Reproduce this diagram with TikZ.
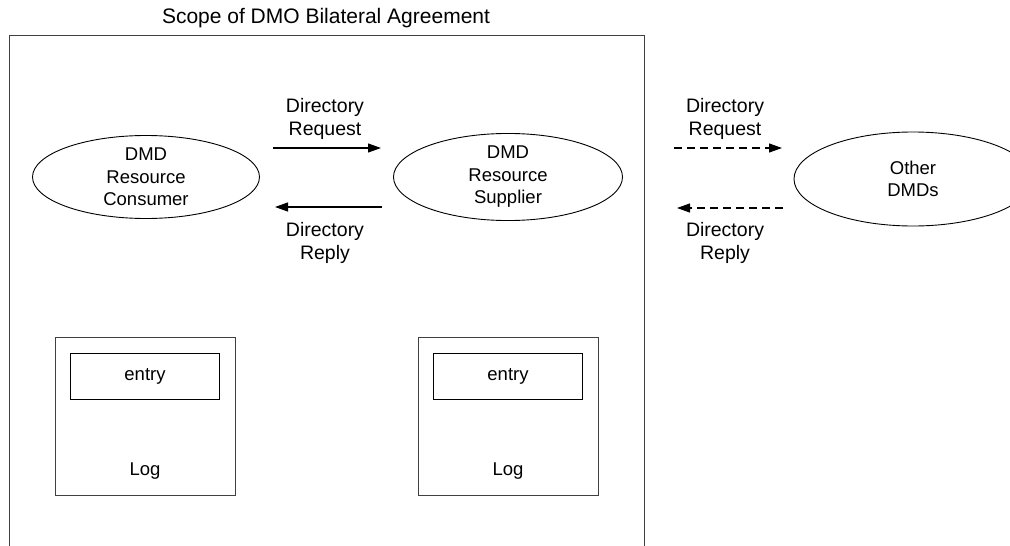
\documentclass[tikz,border=0pt]{standalone}
\usepackage{fontspec}
\setmainfont{Liberation Sans}
\usetikzlibrary{arrows.meta,shapes.geometric}

\def\logy{416}
\def\entryy{376}

\begin{document}
\begin{tikzpicture}[x=1pt, y=-1pt,
    nodes = {font=\fontsize{18.5}{22.5}\selectfont, align=center},
    >={Triangle[length=13pt,width=9pt]},
    dmd/.style={ellipse, draw, line width=0.9pt, inner sep=0pt},
    msglabel/.style={font=\fontsize{19.5}{23.5}\selectfont},
    logbox/.style={draw=black!75, line width=1pt, minimum width=180pt, minimum height=158pt},
    entrybox/.style={draw, line width=1pt, minimum width=149pt, minimum height=46pt},
    msg/.style={->, line width=1.2pt},
    fwdmsg/.style={msg, dash pattern=on 8pt off 5pt}]
    \useasboundingbox (0,0) rectangle (1010,546);

    % Scope of the agreement (open at the bottom)
    \node[font=\fontsize{21}{25}\selectfont] (title) at (326,18) {Scope of DMO Bilateral Agreement};
    \coordinate (scopebl) at (9,546);
    \coordinate (scopetl) at (9,35);
    \coordinate (scopetr) at (644,35);
    \coordinate (scopebr) at (644,546);
    \draw[black!75, line width=1pt] (scopebl) -- (scopetl) -- (scopetr) -- (scopebr);

    % DMDs
    \node[dmd, minimum width=227pt, minimum height=83pt] (consumer) at (146,177)
        {DMD\\Resource\\Consumer};
    \node[dmd, minimum width=229pt, minimum height=82pt] (supplier) at (508,177)
        {DMD\\Resource\\Supplier};
    \node[dmd, minimum width=238pt, minimum height=94pt] (other) at (913,179)
        {Other\\DMDs};

    % Messages inside the scope
    \coordinate (reqa) at (273,148);
    \coordinate (reqb) at (381,148);
    \coordinate (repa) at (382,207);
    \coordinate (repb) at (275,207);
    \draw[msg] (reqa) -- (reqb);
    \draw[msg] (repa) -- (repb);
    \node[msglabel] (reqlabel) at (325,119) {Directory\\Request};
    \node[msglabel] (replabel) at (325,243) {Directory\\Reply};

    % Messages to other DMDs
    \coordinate (freqa) at (674,148);
    \coordinate (freqb) at (782,148);
    \coordinate (frepa) at (783,208);
    \coordinate (frepb) at (677,208);
    \draw[fwdmsg] (freqa) -- (freqb);
    \draw[fwdmsg] (frepa) -- (frepb);
    \node[msglabel] (freqlabel) at (725,119) {Directory\\Request};
    \node[msglabel] (freplabel) at (725,243) {Directory\\Reply};

    % Logs
    \foreach \x/\name in {145/consumer, 508/supplier} {
        \node[logbox] (log\name) at (\x,\logy) {};
        \node[entrybox] (entry\name) at (\x,\entryy) {entry};
        \node (logtext\name) at (\x,471) {Log};
    }
\end{tikzpicture}
\end{document}
